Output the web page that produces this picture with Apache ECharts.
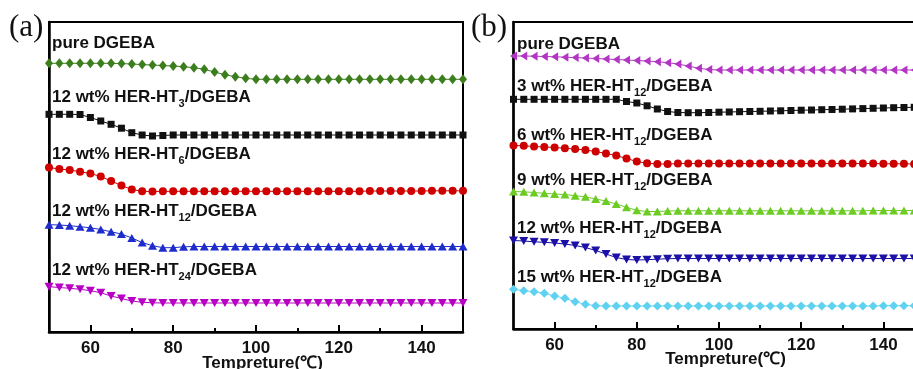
<!DOCTYPE html>
<html>
<head>
<meta charset="utf-8">
<script src="https://cdn.jsdelivr.net/npm/echarts/dist/echarts.min.js"></script>
<style>
  html, body { margin: 0; padding: 0; background: #fff; }
  #main { width: 913px; height: 369px; }
</style>
</head>
<body>
<div id="main"></div>
<script>
// temperature points (°C), same for every curve
var temps = [50, 52.5, 55, 57.5, 60, 62.5, 65, 67.5, 70, 72.5, 75, 77.5, 80, 82.5, 85, 87.5, 90, 92.5, 95, 97.5,
  100, 102.5, 105, 107.5, 110, 112.5, 115, 117.5, 120, 122.5, 125, 127.5, 130, 132.5, 135, 137.5, 140, 142.5, 145, 147.5, 150];
var tickValues = [60, 80, 100, 120, 140];
var minorTickValues = [70, 90, 110, 130];
var axisName = 'Tempreture(℃)';

// panel (a), heat flow in arbitrary units
var aPure = [26.87, 26.87, 26.87, 26.87, 26.87, 26.87, 26.87, 26.84, 26.8, 26.74, 26.7, 26.64, 26.6, 26.53, 26.43, 26.27, 26.0, 25.73, 25.53, 25.37,
  25.27, 25.27, 25.27, 25.27, 25.27, 25.27, 25.27, 25.27, 25.27, 25.27, 25.27, 25.27, 25.27, 25.27, 25.27, 25.27, 25.27, 25.27, 25.27, 25.27, 25.27];
var aHT3 = [21.77, 21.77, 21.77, 21.75, 21.45, 21.1, 20.77, 20.38, 19.93, 19.7, 19.6, 19.65, 19.7, 19.7, 19.7, 19.7, 19.7, 19.7, 19.7, 19.7,
  19.7, 19.7, 19.7, 19.7, 19.7, 19.7, 19.7, 19.7, 19.7, 19.7, 19.7, 19.7, 19.7, 19.7, 19.7, 19.7, 19.7, 19.7, 19.7, 19.7, 19.7];
var aHT6 = [16.45, 16.3, 16.2, 16.03, 15.85, 15.55, 15.1, 14.65, 14.25, 14.07, 14.05, 14.07, 14.07, 14.07, 14.07, 14.07, 14.07, 14.07, 14.07, 14.07,
  14.07, 14.07, 14.07, 14.07, 14.07, 14.07, 14.07, 14.07, 14.07, 14.07, 14.07, 14.1, 14.1, 14.1, 14.1, 14.1, 14.1, 14.12, 14.12, 14.12, 14.12];
var aHT12 = [10.73, 10.7, 10.63, 10.53, 10.42, 10.25, 10.02, 9.8, 9.4, 8.95, 8.63, 8.43, 8.43, 8.52, 8.55, 8.55, 8.55, 8.55, 8.55, 8.55,
  8.55, 8.55, 8.55, 8.55, 8.55, 8.55, 8.55, 8.55, 8.55, 8.55, 8.55, 8.55, 8.55, 8.55, 8.55, 8.55, 8.55, 8.55, 8.55, 8.55, 8.55];
var aHT24 = [4.53, 4.45, 4.37, 4.27, 4.13, 3.93, 3.6, 3.35, 3.1, 2.97, 2.92, 2.9, 2.9, 2.9, 2.9, 2.9, 2.9, 2.9, 2.9, 2.9,
  2.9, 2.9, 2.9, 2.9, 2.9, 2.9, 2.9, 2.9, 2.9, 2.9, 2.9, 2.9, 2.9, 2.9, 2.9, 2.9, 2.9, 2.9, 2.9, 2.9, 2.9];

// panel (b)
var bPure = [27.3, 27.3, 27.28, 27.25, 27.22, 27.18, 27.14, 27.1, 27.05, 27.0, 26.95, 26.9, 26.85, 26.8, 26.73, 26.63, 26.5, 26.3, 26.08, 25.95,
  25.9, 25.9, 25.9, 25.9, 25.9, 25.9, 25.9, 25.9, 25.9, 25.9, 25.9, 25.9, 25.9, 25.9, 25.9, 25.9, 25.9, 25.9, 25.9, 25.9, 25.9];
var b3 = [22.97, 22.97, 22.97, 22.97, 22.97, 22.97, 22.97, 22.97, 22.97, 22.97, 22.97, 22.75, 22.6, 22.32, 22.0, 21.75, 21.65, 21.63, 21.63, 21.65,
  21.68, 21.7, 21.73, 21.75, 21.77, 21.8, 21.82, 21.85, 21.88, 21.9, 21.93, 21.95, 21.98, 22.01, 22.04, 22.07, 22.1, 22.13, 22.15, 22.17, 22.2];
var b6 = [18.35, 18.32, 18.25, 18.2, 18.15, 18.07, 18.0, 17.9, 17.75, 17.55, 17.35, 17.05, 16.75, 16.58, 16.5, 16.5, 16.54, 16.55, 16.55, 16.55,
  16.55, 16.55, 16.55, 16.55, 16.55, 16.55, 16.55, 16.55, 16.55, 16.55, 16.55, 16.55, 16.55, 16.55, 16.55, 16.55, 16.52, 16.52, 16.52, 16.5, 16.5];
var b9 = [13.75, 13.72, 13.65, 13.57, 13.5, 13.45, 13.33, 13.22, 13.0, 12.8, 12.5, 12.17, 11.87, 11.75, 11.75, 11.8, 11.82, 11.82, 11.82, 11.82,
  11.82, 11.82, 11.82, 11.82, 11.82, 11.82, 11.82, 11.82, 11.82, 11.82, 11.82, 11.82, 11.82, 11.82, 11.82, 11.85, 11.85, 11.85, 11.85, 11.85, 11.85];
var b12 = [8.85, 8.8, 8.72, 8.67, 8.6, 8.5, 8.35, 8.15, 7.85, 7.5, 7.15, 6.95, 6.9, 6.93, 6.98, 7.03, 7.05, 7.05, 7.05, 7.05,
  7.05, 7.05, 7.05, 7.05, 7.05, 7.05, 7.05, 7.05, 7.05, 7.05, 7.05, 7.05, 7.05, 7.05, 7.05, 7.05, 7.05, 7.05, 7.05, 7.05, 7.05];
var b15 = [3.97, 3.83, 3.73, 3.57, 3.3, 3.07, 2.73, 2.47, 2.33, 2.3, 2.3, 2.3, 2.3, 2.3, 2.3, 2.3, 2.3, 2.3, 2.3, 2.3,
  2.3, 2.3, 2.3, 2.3, 2.3, 2.3, 2.3, 2.3, 2.3, 2.3, 2.3, 2.3, 2.3, 2.3, 2.3, 2.3, 2.33, 2.33, 2.33, 2.33, 2.33];

var font = '"Liberation Sans", Arial, sans-serif';

function pairs(vals) {
  return temps.map(function (t, i) { return [t, vals[i]]; });
}

function curve(vals, grid, color, symbol, size, rotate) {
  return {
    type: 'line',
    xAxisIndex: grid * 2,
    yAxisIndex: grid,
    data: pairs(vals),
    symbol: symbol,
    symbolSize: size,
    symbolRotate: rotate || 0,
    showAllSymbol: true,
    itemStyle: { color: color },
    lineStyle: { color: color, width: 1 },
    animation: false,
    z: 3
  };
}

function majorAxis(grid, gap) {
  return {
    type: 'value', gridIndex: grid, min: 50, max: 150,
    name: axisName, nameLocation: 'middle', nameGap: gap, nameMoveOverlap: false,
    nameTextStyle: { fontFamily: font, fontWeight: 'bold', fontSize: 17, color: '#111', padding: [0, 0, 0, 13] },
    axisLine: { lineStyle: { color: '#000', width: 2.5 } },
    axisTick: { inside: true, length: 7, customValues: tickValues, lineStyle: { color: '#000', width: 2 } },
    axisLabel: { customValues: tickValues, margin: 8, fontFamily: font, fontWeight: 'bold', fontSize: 17, color: '#111' },
    splitLine: { show: false }
  };
}

function minorAxis(grid) {
  return {
    type: 'value', gridIndex: grid, min: 50, max: 150, position: 'bottom',
    axisLine: { show: false },
    axisTick: { inside: true, length: 4, customValues: minorTickValues, lineStyle: { color: '#000', width: 2 } },
    axisLabel: { show: false },
    splitLine: { show: false }
  };
}

function yAxis(grid, max) {
  return {
    type: 'value', gridIndex: grid, min: 0, max: max,
    axisLine: { show: true, lineStyle: { color: '#000', width: 2.5 } },
    axisTick: { show: false }, axisLabel: { show: false }, splitLine: { show: false }
  };
}

function label(x, y, pre, sub, post) {
  var txt = '{m|' + pre + '}' + (sub ? '{s|' + sub + '}{m|' + post + '}' : '');
  return {
    type: 'text', left: x, top: y, z: 10,
    style: {
      text: txt,
      rich: {
        m: { fontFamily: font, fontWeight: 'bold', fontSize: 17, lineHeight: 24, fill: '#111' },
        s: { fontFamily: font, fontWeight: 'bold', fontSize: 11, lineHeight: 11, verticalAlign: 'bottom', fill: '#111' }
      }
    }
  };
}

var option = {
  backgroundColor: '#fff',
  animation: false,
  grid: [
    { left: 49, top: 22, width: 414, height: 310, show: true, borderColor: '#000', borderWidth: 2, containLabel: false, outerBoundsMode: 'none' },
    { left: 513.5, top: 22, width: 411, height: 307, show: true, borderColor: '#000', borderWidth: 2, containLabel: false, outerBoundsMode: 'none' }
  ],
  xAxis: [majorAxis(0, 23), minorAxis(0), majorAxis(1, 22), minorAxis(1)],
  yAxis: [yAxis(0, 31), yAxis(1, 30.7)],
  series: [
    curve(aPure, 0, '#3c7d1e', 'diamond', [8, 10]),
    curve(aHT3, 0, '#111111', 'rect', 7),
    curve(aHT6, 0, '#d00000', 'circle', 8),
    curve(aHT12, 0, '#1f2ccc', 'triangle', [9, 8]),
    curve(aHT24, 0, '#b800c4', 'triangle', [9, 8], 180),
    curve(bPure, 1, '#b335c4', 'triangle', [9, 7], 90),
    curve(b3, 1, '#111111', 'rect', 7),
    curve(b6, 1, '#cc0000', 'circle', 8),
    curve(b9, 1, '#6ccc24', 'triangle', [9, 8]),
    curve(b12, 1, '#1c10a6', 'triangle', [9, 8], 180),
    curve(b15, 1, '#5ed2f0', 'diamond', [9, 9])
  ],
  graphic: [
    { type: 'text', left: 9, top: 12, style: { text: '(a)', fontFamily: '"Liberation Serif", "Times New Roman", serif', fontSize: 31, fill: '#111' } },
    { type: 'text', left: 471, top: 12, style: { text: '(b)', fontFamily: '"Liberation Serif", "Times New Roman", serif', fontSize: 31, fill: '#111' } },
    label(52, 35, 'pure DGEBA'),
    label(52, 88.5, '12 wt% HER-HT', '3', '/DGEBA'),
    label(52, 145.5, '12 wt% HER-HT', '6', '/DGEBA'),
    label(52, 202.5, '12 wt% HER-HT', '12', '/DGEBA'),
    label(52, 262, '12 wt% HER-HT', '24', '/DGEBA'),
    label(517, 35.5, 'pure DGEBA'),
    label(517, 78, '3 wt% HER-HT', '12', '/DGEBA'),
    label(517, 127.3, '6 wt% HER-HT', '12', '/DGEBA'),
    label(517, 171.5, '9 wt% HER-HT', '12', '/DGEBA'),
    label(517, 220.2, '12 wt% HER-HT', '12', '/DGEBA'),
    label(517, 269.2, '15 wt% HER-HT', '12', '/DGEBA')
  ]
};

var chart = echarts.init(document.getElementById('main'));
chart.setOption(option);
</script>
</body>
</html>
